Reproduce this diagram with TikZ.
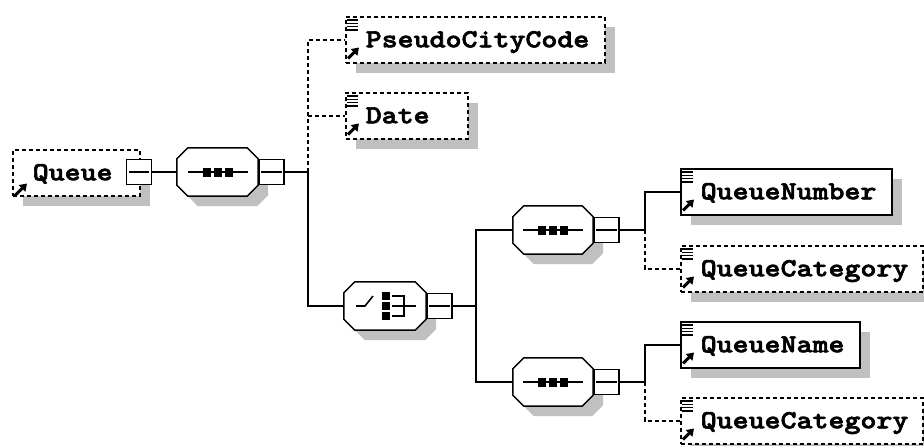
\documentclass[tikz,border=0pt]{standalone}
\usepackage{fontspec}
\newfontfamily\codefont{lmmonolt10-bold.otf}[FakeStretch=1.17,FakeBold=2.5]
\usetikzlibrary{calc,shadows,arrows.meta}
\definecolor{shade}{HTML}{C0C0C0}
\tikzset{
  lw/.style={line width=1.5pt},
  conn/.style={line width=1.6pt},
  dconn/.style={conn, dash pattern=on 4pt off 3pt},
  shad/.style={drop shadow={shadow xshift=10pt, shadow yshift=-10pt, fill=shade, opacity=1}},
  elbox/.style={draw, lw, fill=white, inner sep=0pt, minimum height=46pt,
    text height=15pt, text depth=0pt, anchor=north west,
    font=\codefont\fontsize{26}{26}\selectfont, shad},
  optbox/.style={elbox, dash pattern=on 4pt off 3pt},
  octo/.style={draw, lw, fill=white, shad},
  hold/.style={inner sep=0pt, minimum height=48pt},
  sqbox/.style={draw, lw, fill=white, inner sep=0pt, minimum width=25pt, minimum height=25pt},
  iconline/.style={line width=1.5pt},
  iconarrow/.style={line width=3pt, -{Triangle[length=7pt,width=9pt]}},
}
\newcommand\octagonat[1]{%
  \path[octo] ($(#1.north west)+(11,0)$) -- ($(#1.north east)+(-11,0)$) --
    ($(#1.north east)+(0,11)$) -- ($(#1.south east)+(0,-11)$) --
    ($(#1.south east)+(-11,0)$) -- ($(#1.south west)+(11,0)$) --
    ($(#1.south west)+(0,-11)$) -- ($(#1.north west)+(0,11)$) -- cycle;}
\newcommand\minusin[1]{%
  \draw[lw] ($(#1.west)+(3,0)$) -- ($(#1.east)+(-3,0)$);}
\newcommand\seqicon[1]{%
  \begin{scope}[shift={(#1.center)}]
    \draw[conn] (-30,0) -- (30,0);
    \fill (-15,-4.5) rectangle (-7,4.5);
    \fill (-4,-4.5) rectangle (4,4.5);
    \fill (7,-4.5) rectangle (15,4.5);
  \end{scope}}
\newcommand\elicons[1]{%
  \foreach \dy in {4,7.3,10.6,13.9}
    \draw[iconline] ($(#1.north west)+(2,\dy)$) -- ($(#1.north west)+(13,\dy)$);
  \draw[iconarrow] ($(#1.south west)+(3,-5)$) -- ($(#1.south west)+(14,-16)$);}
\begin{document}
\begin{tikzpicture}[x=1pt,y=-1pt]
\useasboundingbox (0,0) rectangle (924,445);
% root element
\node[optbox] (queue) at (12,149) {\makebox[127pt][l]{\hspace{20pt}Queue}};
\draw[iconarrow] ($(queue.south west)+(3,-1)$) -- ($(queue.south west)+(15,-13)$);
\node[sqbox] (qsq) at (139,172) {};
\minusin{qsq}
% sequence 1
\node[hold, minimum width=81pt] (s1) at (217.5,172) {};
\octagonat{s1}
\seqicon{s1}
\node[sqbox, anchor=west] (s1sq) at (s1.east) {};
\minusin{s1sq}
% children of sequence 1
\node[optbox] (pcc) at (345,16) {\makebox[259pt][l]{\hspace{20pt}PseudoCityCode}};
\elicons{pcc}
\node[optbox] (date) at (345,92) {\makebox[122pt][l]{\hspace{20pt}Date}};
\elicons{date}
% choice
\node[hold, minimum width=82pt] (ch) at (385,306) {};
\octagonat{ch}
\begin{scope}[shift={(ch.center)}]
  \draw[conn] (-29,0) -- (-20,0) -- (-12,-10);
  \fill (-3,-14) rectangle (5,-6);
  \fill (-3,-4) rectangle (5,4);
  \fill (-3,6) rectangle (5,14);
  \draw[conn] (7,-10) -- (19,-10) -- (19,10) -- (7,10);
  \draw[conn] (7,0) -- (31,0);
\end{scope}
\node[sqbox, anchor=west] (chsq) at (ch.east) {};
\minusin{chsq}
% sequence 2 and 3
\node[hold, minimum width=80pt] (s2) at (553,230) {};
\octagonat{s2}
\seqicon{s2}
\node[sqbox, anchor=west] (s2sq) at (s2.east) {};
\minusin{s2sq}
\node[hold, minimum width=80pt] (s3) at (553,382) {};
\octagonat{s3}
\seqicon{s3}
\node[sqbox, anchor=west] (s3sq) at (s3.east) {};
\minusin{s3sq}
% leaf elements
\node[elbox] (qnum) at (680,168) {\makebox[211pt][l]{\hspace{20pt}QueueNumber}};
\elicons{qnum}
\node[optbox] (qcat1) at (680,245) {\makebox[242pt][l]{\hspace{20pt}QueueCategory}};
\elicons{qcat1}
\node[elbox] (qname) at (680,321) {\makebox[179pt][l]{\hspace{20pt}QueueName}};
\elicons{qname}
\node[optbox] (qcat2) at (680,397) {\makebox[242pt][l]{\hspace{20pt}QueueCategory}};
\elicons{qcat2}
% junctions
\coordinate (j1) at (308,172);
\coordinate (j2) at (476,306);
\coordinate (j3) at (645,230);
\coordinate (j4) at (645,382);
% connectors
\draw[conn] (qsq.east) -- (s1.west);
\draw[conn] (s1sq.east) -- (j1);
\draw[dconn] (j1) -- (j1 |- pcc.west) -- (pcc.west);
\draw[dconn] (j1 |- date.west) -- (date.west);
\draw[conn] (j1) |- (ch.west);
\draw[conn] (chsq.east) -- (j2);
\draw[conn] (s2.west) -| (j2) |- (s3.west);
\draw[conn] (s2sq.east) -- (j3);
\draw[conn] (j3) |- (qnum.west);
\draw[dconn] (j3) |- (qcat1.west);
\draw[conn] (s3sq.east) -- (j4);
\draw[conn] (j4) |- (qname.west);
\draw[dconn] (j4) |- (qcat2.west);
\end{tikzpicture}
\end{document}
